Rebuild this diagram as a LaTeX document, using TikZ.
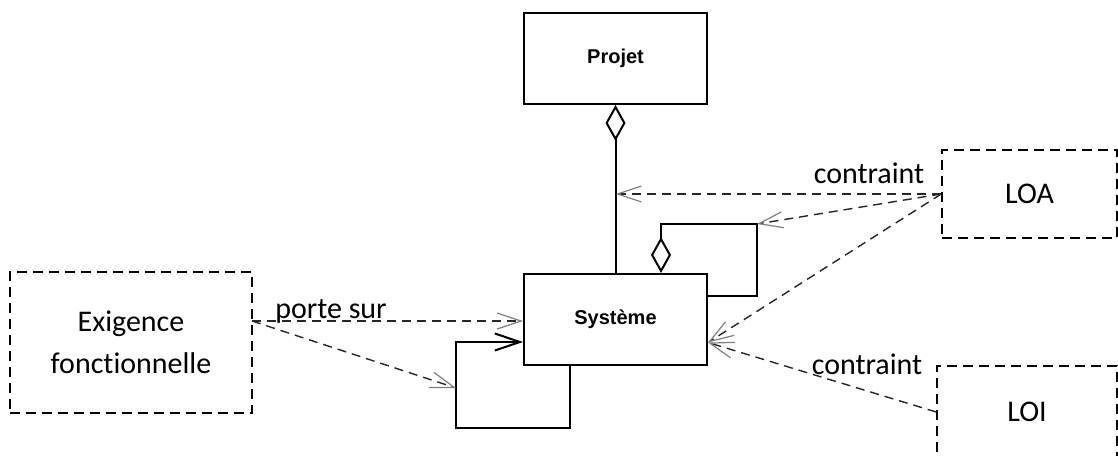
\documentclass[tikz,border=0pt]{standalone}
\usepackage{fontspec}
\setmainfont{Carlito}[Ligatures=NoCommon]
\newfontfamily\arialfont{Liberation Sans}
\usetikzlibrary{arrows.meta,calc}
\begin{document}
\begin{tikzpicture}[x=0.5pt,y=-0.5pt,
  cls/.style={draw,line width=1pt,minimum width=91.5pt,minimum height=45.5pt,inner sep=0pt,
    font=\arialfont\bfseries\fontsize{10}{12}\selectfont},
  notebox/.style={draw,line width=0.75pt,dash pattern=on 5pt off 3pt,inner sep=0pt,
    font=\fontsize{15}{21}\selectfont,align=center},
  lbl/.style={inner sep=0pt,anchor=base,font=\fontsize{15}{18}\selectfont},
  dep/.style={draw=black!85,line width=0.7pt,dash pattern=on 4.5pt off 3pt,
    -{Straight Barb[length=12pt,width=8pt,color=gray,line width=0.6pt]}},
  solid line/.style={draw,line width=1pt},
  agg/.style={solid line,{Diamond[open,length=18pt,width=10pt,fill=white]}-},
  assoc/.style={solid line,-{Straight Barb[length=12.5pt,width=8.5pt]}}
]
\clip (0,0) rectangle (1118,455);
\fill[white] (0,0) rectangle (1118,455);

% classes
\node[cls] (projet) at (615.5,58.5) {Projet};
\node[cls] (sys) at (615.5,319.5) {Système};

% notes
\node[notebox,minimum width=121pt,minimum height=70.5pt] (exig) at (131,342.5) {Exigence\\fonctionnelle};
\node[notebox,minimum width=87.5pt,minimum height=44pt] (loa) at (1029.5,194) {LOA};
\node[notebox,minimum width=90pt,minimum height=46pt] (loi) at (1027,412) {LOI};

% helper coordinates
\coordinate (aggTop) at (661,224);
\coordinate (aggR) at (757,224);
\coordinate (aggRB) at (757,296);
\coordinate (loopTL) at (456,342);
\coordinate (loopBL) at (456,428);
\coordinate (loopBR) at (570,428);
\coordinate (loopIn) at (456,388);
\coordinate (sysIn) at ($(sys.east)+(0,23)$);
\coordinate (exigOut) at (252,321);

% aggregation Projet - Systeme
\draw[agg] (projet.south) -- (sys.north);
% self aggregation
\draw[agg] (sys.north -| aggTop) -- (aggTop) -- (aggR) -- (aggRB) -- (aggRB -| sys.east);
% self association
\draw[assoc] (loopBR |- sys.south) -- (loopBR) -- (loopBL) -- (loopTL) -- (loopTL -| sys.west);

% dependencies
\draw[dep] (exigOut) -- (exigOut -| sys.west);
\draw[dep] (exigOut) -- (loopIn);
\draw[dep] (loa.west) -- (sys.north |- loa.west);
\draw[dep] (loa.west) -- (aggR);
\draw[dep] (loa.west) -- (sysIn);
\draw[dep] (loi.west) -- (sysIn);

% labels
\node[lbl] (lporte) at (331,318) {porte sur};
\node[lbl] (lcontr1) at (869,183) {contraint};
\node[lbl] (lcontr2) at (867,374) {contraint};
\end{tikzpicture}
\end{document}
